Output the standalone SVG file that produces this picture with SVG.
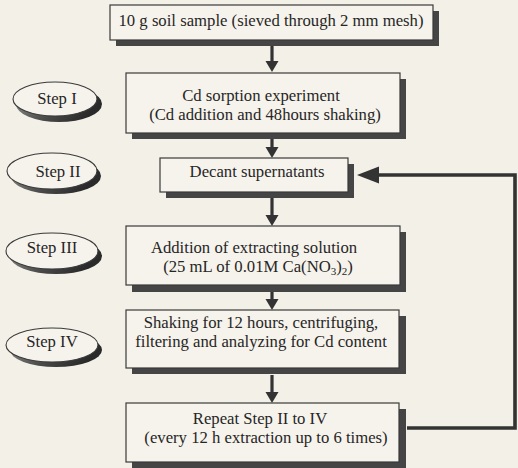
<svg xmlns="http://www.w3.org/2000/svg" width="518" height="468" viewBox="0 0 518 468">
<style>
.bg{fill:#f3f0e8}
.box{fill:#f6f3ec;stroke:#3a3a3a;stroke-width:1.2}
.sh{fill:#454545}
.shb{fill:#6a6a68}
.ov{fill:#f6f3ec;stroke:#3a3a3a;stroke-width:1.1}
.ovs{fill:url(#og)}
.t{font-family:"Liberation Serif","Times New Roman",serif;font-size:16.7px;fill:#262626;text-anchor:middle}
.sub{font-size:11px}
.ar{stroke:#333;stroke-width:3.2;fill:none}
.fb{stroke:#333;stroke-width:3.6;fill:none;stroke-linejoin:miter}
</style>
<defs>
<linearGradient id="og" x1="0" y1="0" x2="1" y2="0.4">
<stop offset="0" stop-color="#9a9a96"/>
<stop offset="0.6" stop-color="#4a4a4a"/>
<stop offset="1" stop-color="#2a2a2a"/>
</linearGradient>
<marker id="ah" markerUnits="userSpaceOnUse" markerWidth="14" markerHeight="14" refX="1" refY="6.5" orient="auto">
<path d="M0,0 L11,6.5 L0,13 z" fill="#333"/>
</marker>
<marker id="ahb" markerUnits="userSpaceOnUse" markerWidth="24" markerHeight="20" refX="1" refY="8.5" orient="auto">
<path d="M0,0 L22,8.5 L0,17 z" fill="#333"/>
</marker>
</defs>
<rect class="bg" x="0" y="0" width="518" height="468"/>

<g id="connectors">
<path class="ar" d="M272,46 V62" marker-end="url(#ah)"/>
<path class="ar" d="M272,139 V148" marker-end="url(#ah)"/>
<path class="ar" d="M272,198 V216" marker-end="url(#ah)"/>
<path class="ar" d="M272,292 V300" marker-end="url(#ah)"/>
<path class="ar" d="M272,375 V393" marker-end="url(#ah)"/>
<path class="fb" d="M407,428 H515 V175 H378" marker-end="url(#ahb)"/>
</g>

<g id="n0">
<rect class="sh" x="116" y="11" width="323" height="35"/>
<rect class="box" x="110" y="5" width="323" height="35"/>
<text class="t" x="271" y="26">10 g soil sample (sieved through 2 mm mesh)</text>
</g>

<g id="n1">
<rect class="sh" x="132" y="79" width="274" height="60"/>
<rect class="box" x="126" y="73" width="274" height="60"/>
<text class="t" x="261" y="101">Cd sorption experiment</text>
<text class="t" x="265" y="120">(Cd addition and 48hours shaking)</text>
</g>

<g id="n2">
<rect class="sh" x="166" y="164" width="188" height="34"/>
<rect class="box" x="160" y="158" width="188" height="34"/>
<text class="t" x="257" y="177">Decant supernatants</text>
</g>

<g id="n3">
<rect class="sh" x="132" y="232" width="274" height="60"/>
<rect class="box" x="126" y="226" width="274" height="59"/>
<text class="t" x="254" y="253">Addition of extracting solution</text>
<text class="t" x="258" y="272">(25 mL of 0.01M Ca(NO<tspan class="sub" dy="3">3</tspan><tspan dy="-3">)</tspan><tspan class="sub" dy="3">2</tspan><tspan dy="-3">)</tspan></text>
</g>

<g id="n4">
<rect class="sh" x="132" y="316" width="274" height="58"/>
<rect class="box" x="126" y="310" width="273" height="58"/>
<text class="t" x="261" y="328">Shaking for 12 hours, centrifuging,</text>
<text class="t" x="261" y="347">filtering and analyzing for Cd content</text>
</g>

<g id="n5">
<rect class="sh" x="132" y="409" width="274" height="60"/>
<rect class="box" x="126" y="403" width="273" height="59"/>
<text class="t" x="260" y="424">Repeat Step II to IV</text>
<text class="t" x="266" y="443">(every 12 h extraction up to 6 times)</text>
</g>

<g id="s1">
<ellipse class="ovs" cx="59" cy="104" rx="43" ry="18"/>
<ellipse class="ov" cx="55" cy="99" rx="42" ry="17"/>
<text class="t" x="57" y="104">Step I</text>
</g>

<g id="s2">
<ellipse class="ovs" cx="56" cy="176" rx="45" ry="18"/>
<ellipse class="ov" cx="52" cy="171" rx="45" ry="18"/>
<text class="t" x="58" y="177">Step II</text>
</g>

<g id="s3">
<ellipse class="ovs" cx="56" cy="256" rx="46" ry="18"/>
<ellipse class="ov" cx="52" cy="251" rx="46" ry="18"/>
<text class="t" x="52" y="253">Step III</text>
</g>

<g id="s4">
<ellipse class="ovs" cx="56" cy="350" rx="46" ry="17"/>
<ellipse class="ov" cx="52" cy="345" rx="46" ry="17"/>
<text class="t" x="52" y="347">Step IV</text>
</g>
</svg>
